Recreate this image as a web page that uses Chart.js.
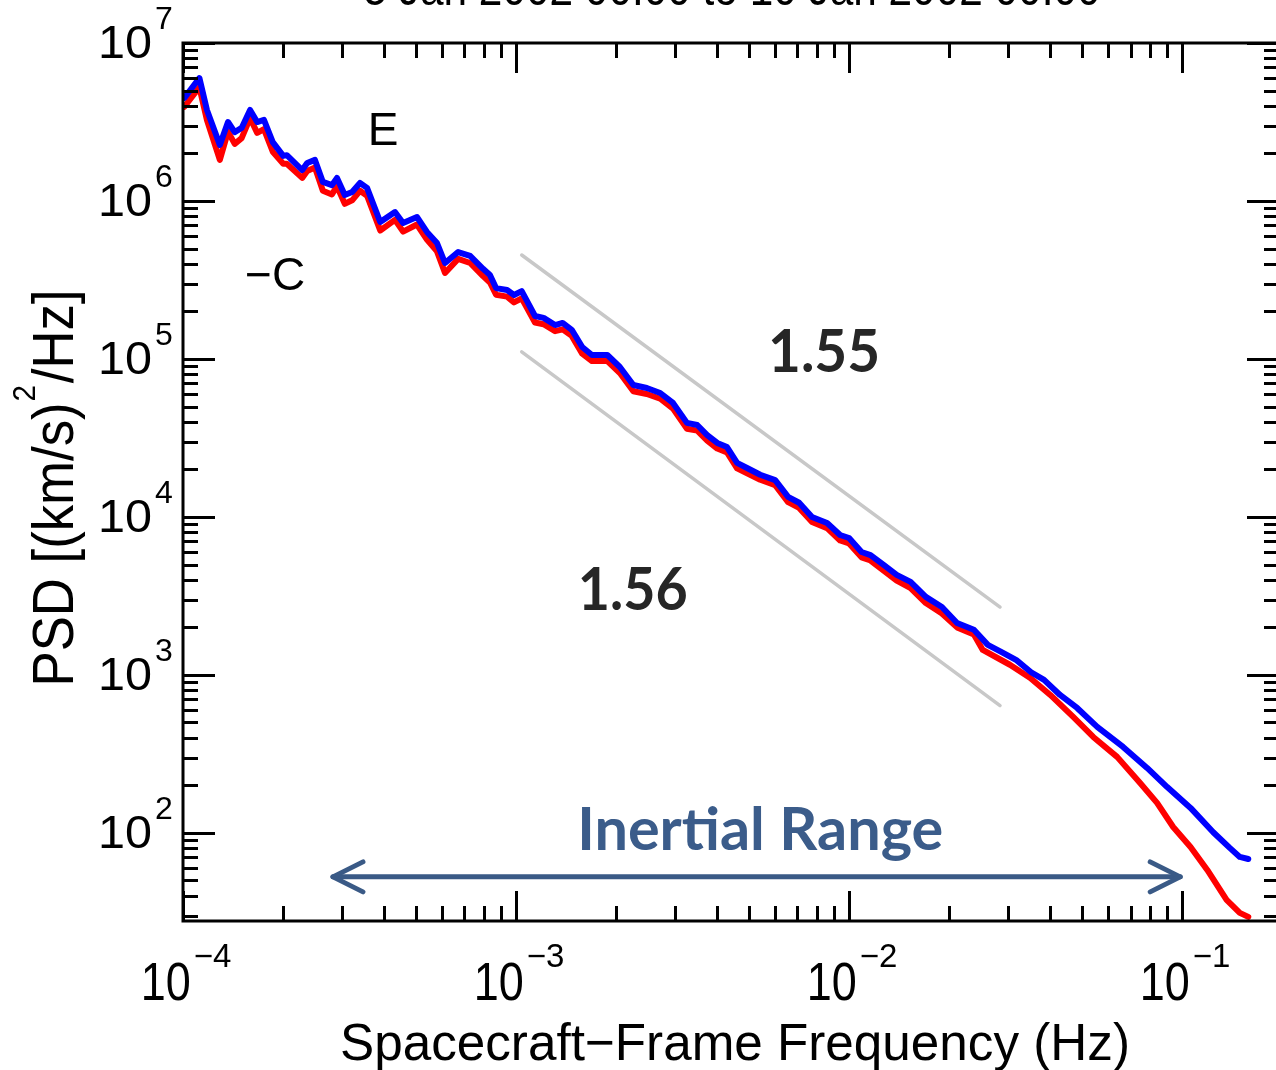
<!DOCTYPE html>
<html>
<head>
<meta charset="utf-8">
<script src="https://cdn.jsdelivr.net/npm/chart.js"></script>
<style>
html, body { margin: 0; padding: 0; background: #fff; overflow: hidden; }
canvas { display: block; }
</style>
</head>
<body>
<canvas id="psdChart" width="1290" height="1070"></canvas>
<script>
// spectrum (Hz, (km/s)^2/Hz)
var freqBlue = [1.01e-4, 1.12e-4, 1.18e-4, 1.29e-4, 1.365e-4, 1.43e-4, 1.50e-4, 1.59e-4, 1.67e-4, 1.75e-4,
    1.86e-4, 2.00e-4, 2.05e-4, 2.28e-4, 2.36e-4, 2.49e-4, 2.63e-4, 2.80e-4, 2.90e-4, 3.06e-4,
    3.22e-4, 3.40e-4, 3.57e-4, 3.91e-4, 4.33e-4, 4.58e-4, 5.04e-4, 5.40e-4, 5.79e-4, 6.12e-4,
    6.70e-4, 7.28e-4, 7.96e-4, 8.35e-4, 8.71e-4, 9.40e-4, 9.86e-4, 1.04e-3, 1.14e-3, 1.21e-3,
    1.31e-3, 1.38e-3, 1.47e-3, 1.58e-3, 1.69e-3, 1.88e-3, 2.05e-3, 2.25e-3, 2.47e-3, 2.71e-3,
    2.96e-3, 3.26e-3, 3.50e-3, 3.75e-3, 4.02e-3, 4.30e-3, 4.61e-3, 4.94e-3, 5.41e-3, 6.00e-3,
    6.56e-3, 7.08e-3, 7.74e-3, 8.59e-3, 9.40e-3, 1.00e-2, 1.09e-2, 1.16e-2, 1.27e-2, 1.39e-2,
    1.53e-2, 1.70e-2, 1.90e-2, 2.11e-2, 2.37e-2, 2.61e-2, 2.90e-2, 3.18e-2, 3.52e-2, 3.85e-2,
    4.30e-2, 4.84e-2, 5.56e-2, 6.65e-2, 7.85e-2, 9.02e-2, 1.06e-1, 1.24e-1, 1.39e-1, 1.49e-1, 1.58e-1];
var psdBlue = [4.49e6, 6.00e6, 3.77e6, 2.26e6, 3.16e6, 2.73e6, 2.90e6, 3.77e6, 3.16e6, 3.26e6,
    2.36e6, 1.93e6, 1.95e6, 1.57e6, 1.74e6, 1.82e6, 1.32e6, 1.26e6, 1.40e6, 1.09e6,
    1.14e6, 1.30e6, 1.21e6, 7.36e5, 8.51e5, 7.26e5, 7.92e5, 6.37e5, 5.42e5, 4.05e5,
    4.75e5, 4.49e5, 3.72e5, 3.40e5, 2.81e5, 2.73e5, 2.54e5, 2.69e5, 1.87e5, 1.82e5,
    1.64e5, 1.69e5, 1.53e5, 1.19e5, 1.06e5, 1.06e5, 8.90e4, 6.84e4, 6.55e4, 6.09e4,
    5.27e4, 3.94e4, 3.82e4, 3.30e4, 2.94e4, 2.77e4, 2.20e4, 2.04e4, 1.85e4, 1.71e4,
    1.34e4, 1.23e4, 1.00e4, 9.16e3, 7.69e3, 7.36e3, 6.00e3, 5.74e3, 4.97e3, 4.30e3,
    3.88e3, 3.12e3, 2.69e3, 2.13e3, 1.93e3, 1.55e3, 1.38e3, 1.24e3, 1.04e3, 930,
    747, 618, 469, 350, 258, 195, 144, 101, 80.4, 70.5, 68.4];

var freqRed = [1.01e-4, 1.12e-4, 1.18e-4, 1.29e-4, 1.365e-4, 1.43e-4, 1.50e-4, 1.59e-4, 1.67e-4, 1.75e-4,
    1.86e-4, 2.00e-4, 2.05e-4, 2.28e-4, 2.36e-4, 2.49e-4, 2.63e-4, 2.80e-4, 2.90e-4, 3.06e-4,
    3.22e-4, 3.40e-4, 3.57e-4, 3.91e-4, 4.33e-4, 4.58e-4, 5.04e-4, 5.40e-4, 5.79e-4, 6.12e-4,
    6.70e-4, 7.28e-4, 7.96e-4, 8.35e-4, 8.71e-4, 9.40e-4, 9.86e-4, 1.04e-3, 1.14e-3, 1.21e-3,
    1.31e-3, 1.38e-3, 1.47e-3, 1.58e-3, 1.69e-3, 1.88e-3, 2.05e-3, 2.25e-3, 2.47e-3, 2.71e-3,
    2.96e-3, 3.26e-3, 3.50e-3, 3.75e-3, 4.02e-3, 4.30e-3, 4.61e-3, 4.94e-3, 5.41e-3, 6.00e-3,
    6.56e-3, 7.08e-3, 7.74e-3, 8.59e-3, 9.40e-3, 1.00e-2, 1.09e-2, 1.16e-2, 1.27e-2, 1.39e-2,
    1.53e-2, 1.70e-2, 1.90e-2, 2.11e-2, 2.37e-2, 2.52e-2, 3.04e-2, 3.50e-2, 4.02e-2, 4.71e-2,
    5.41e-2, 6.38e-2, 7.48e-2, 8.41e-2, 9.40e-2, 1.06e-1, 1.19e-1, 1.36e-1, 1.49e-1, 1.58e-1];
var psdRed = [3.95e6, 5.25e6, 3.25e6, 1.82e6, 2.75e6, 2.30e6, 2.50e6, 3.35e6, 2.70e6, 2.85e6,
    2.05e6, 1.72e6, 1.72e6, 1.40e6, 1.55e6, 1.63e6, 1.16e6, 1.10e6, 1.24e6, 9.6e5,
    1.01e6, 1.16e6, 1.08e6, 6.5e5, 7.6e5, 6.4e5, 7.1e5, 5.7e5, 4.8e5, 3.5e5,
    4.3e5, 4.05e5, 3.35e5, 3.05e5, 2.55e5, 2.48e5, 2.28e5, 2.42e5, 1.70e5, 1.66e5,
    1.50e5, 1.54e5, 1.40e5, 1.08e5, 9.7e4, 9.7e4, 8.15e4, 6.25e4, 6.0e4, 5.6e4,
    4.85e4, 3.62e4, 3.52e4, 3.04e4, 2.71e4, 2.56e4, 2.03e4, 1.89e4, 1.72e4, 1.59e4,
    1.24e4, 1.14e4, 9.3e3, 8.5e3, 7.1e3, 6.8e3, 5.55e3, 5.3e3, 4.58e3, 3.95e3,
    3.55e3, 2.85e3, 2.45e3, 2.0e3, 1.80e3, 1.44e3, 1.16e3, 957, 747, 542,
    405, 303, 207, 155, 109, 81.5, 58.3, 37.7, 31.2, 29.4];

// power-law guide lines (slopes 1.55 and 1.56)
var fitFreq = [1.04e-3, 2.84e-2];
var fitUpper = [4.55e5, 2.69e3];
var fitLower = [1.11e5, 6.4e2];

// inertial range arrow
var arrowFreq = [2.82e-4, 9.87e-2];
var arrowPsd = [52.7, 52.7];

var xDecades = [-4, -3, -2, -1];
var yDecades = [2, 3, 4, 5, 6, 7];

var titleText = '5 Jan 2002 00:00 to 10 Jan 2002 00:00';
var xTitle = 'Spacecraft\u2212Frame Frequency (Hz)';

// text notes placed in data coordinates
var notes = [
    {text: 'E', f: 3.99e-4, p: 2.26e6, font: '46px "Liberation Sans"', color: '#000'},
    {text: '\u2212C', f: 1.89e-4, p: 2.73e5, font: '46px "Liberation Sans"', color: '#000'},
    {text: '1.55', f: 8.41e-3, p: 8.27e4, font: 'bold 60px Lato', color: '#262626', width: 112},
    {text: '1.56', f: 2.24e-3, p: 2.58e3, font: 'bold 60px Lato', color: '#262626', width: 110},
    {text: 'Inertial Range', f: 5.41e-3, p: 78, font: 'bold 60px Lato', color: '#3b5c8a', width: 366}
];

function pts(xs, ys) {
    return xs.map(function(v, i){ return {x: v, y: ys[i]}; });
}

function putText(ctx, str, x, y, font, opts) {
    opts = opts || {};
    ctx.save();
    ctx.font = font;
    ctx.fillStyle = opts.color || '#000';
    ctx.textAlign = 'left';
    ctx.textBaseline = 'alphabetic';
    var w = ctx.measureText(str).width;
    var sx = opts.width ? opts.width / w : 1;
    var dw = w * sx;
    var left = x;
    if (opts.align === 'center') left = x - dw / 2;
    if (opts.align === 'right') left = x - dw;
    ctx.translate(left, y);
    ctx.scale(sx, 1);
    ctx.fillText(str, 0, 0);
    ctx.restore();
    return dw;
}

function seg(ctx, x1, y1, x2, y2) {
    ctx.beginPath();
    ctx.moveTo(x1, y1);
    ctx.lineTo(x2, y2);
    ctx.stroke();
}

var axesPlugin = {
    id: 'idlAxes',
    afterDraw: function(chart) {
        var ctx = chart.ctx, a = chart.chartArea;
        var xs = chart.scales.x, ys = chart.scales.y;
        ctx.save();
        ctx.strokeStyle = '#000';
        ctx.lineWidth = 3;
        ctx.lineCap = 'butt';
        ctx.strokeRect(a.left, a.top, a.right - a.left, a.bottom - a.top);

        // x ticks, bottom and top
        for (var k = -4; k <= -1; k++) {
            for (var m = 1; m <= 9; m++) {
                var v = m * Math.pow(10, k);
                if (v > xs.max * 1.0001) continue;
                var px = Math.round(xs.getPixelForValue(v)) + 0.5;
                var len = m === 1 ? 30 : 15;
                seg(ctx, px, a.bottom, px, a.bottom - len);
                seg(ctx, px, a.top, px, a.top + len);
            }
        }
        // y ticks, left and right
        for (var k2 = 1; k2 <= 7; k2++) {
            for (var m2 = 1; m2 <= 9; m2++) {
                var v2 = m2 * Math.pow(10, k2);
                if (v2 < ys.min || v2 > ys.max * 1.0001) continue;
                var py = Math.round(ys.getPixelForValue(v2)) + 0.5;
                var len2 = m2 === 1 ? 32 : 15;
                seg(ctx, a.left, py, a.left + len2, py);
                seg(ctx, a.right, py, a.right - len2, py);
            }
        }
        ctx.restore();

        // tick labels
        yDecades.forEach(function(k) {
            var py = ys.getPixelForValue(Math.pow(10, k));
            putText(ctx, '10', a.left - 31, py + 15, '47px "Liberation Sans"', {align: 'right', width: 54});
            putText(ctx, String(k), a.left - 28, py - 14, '32px "Liberation Sans"');
        });
        xDecades.forEach(function(k) {
            var px = xs.getPixelForValue(Math.pow(10, k));
            var sup = '\u2212' + (-k);
            ctx.font = '33px "Liberation Sans"';
            var ws = ctx.measureText(sup).width;
            var left = px - (53 + ws) / 2 + 3;
            putText(ctx, '10', left, a.bottom + 79, '53px "Liberation Sans"', {width: 50});
            putText(ctx, sup, left + 53, a.bottom + 46, '33px "Liberation Sans"');
        });

        // axis titles
        var cx = (a.left + a.right) / 2;
        putText(ctx, xTitle, cx + 4, a.bottom + 139, '52px "Liberation Sans"', {align: 'center', width: 790});
        putText(ctx, titleText, cx + 1, a.top - 38, '50px "Liberation Sans"', {align: 'center', width: 737});

        ctx.save();
        ctx.translate(73, 488);
        ctx.rotate(-Math.PI / 2);
        ctx.fillStyle = '#000';
        ctx.font = '57px "Liberation Sans"';
        var p1 = 'PSD [(km/s)', p3 = '/Hz]';
        var w1 = ctx.measureText(p1).width, w3 = ctx.measureText(p3).width;
        ctx.font = '32px "Liberation Sans"';
        var w2 = ctx.measureText('2').width + 3;
        var tot = w1 + w2 + w3;
        ctx.scale(397 / tot, 1);
        var s0 = -tot / 2;
        ctx.font = '57px "Liberation Sans"';
        ctx.fillText(p1, s0, 0);
        ctx.font = '32px "Liberation Sans"';
        ctx.fillText('2', s0 + w1 + 1, -38);
        ctx.font = '57px "Liberation Sans"';
        ctx.fillText(p3, s0 + w1 + w2, 0);
        ctx.restore();

        // notes
        notes.forEach(function(n) {
            putText(ctx, n.text, xs.getPixelForValue(n.f), ys.getPixelForValue(n.p), n.font,
                {align: 'center', color: n.color, width: n.width});
        });

        // arrow heads on the inertial range line
        var meta = chart.getDatasetMeta(4);
        var p0 = meta.data[0], pN = meta.data[1];
        ctx.save();
        ctx.strokeStyle = '#3a5a86';
        ctx.lineWidth = 5;
        ctx.lineCap = 'round';
        ctx.lineJoin = 'round';
        ctx.beginPath();
        ctx.moveTo(p0.x + 30, p0.y - 15); ctx.lineTo(p0.x, p0.y); ctx.lineTo(p0.x + 30, p0.y + 15);
        ctx.moveTo(pN.x - 30, pN.y - 15); ctx.lineTo(pN.x, pN.y); ctx.lineTo(pN.x - 30, pN.y + 15);
        ctx.stroke();
        ctx.restore();
    }
};

var ctx = document.getElementById('psdChart');
var psdChart = new Chart(ctx, {
    type: 'line',
    data: {
        datasets: [
            {label: 'E', data: pts(freqBlue, psdBlue), borderColor: '#0000ff', borderWidth: 6, order: 0},
            {label: 'C', data: pts(freqRed, psdRed), borderColor: '#ff0000', borderWidth: 6, order: 1},
            {label: 'fit 1.55', data: pts(fitFreq, fitUpper), borderColor: '#c8c8c8', borderWidth: 3.5, order: 2},
            {label: 'fit 1.56', data: pts(fitFreq, fitLower), borderColor: '#c8c8c8', borderWidth: 3.5, order: 2},
            {label: 'inertial', data: pts(arrowFreq, arrowPsd), borderColor: '#3a5a86', borderWidth: 5, order: 3}
        ]
    },
    options: {
        responsive: false,
        animation: false,
        layout: {padding: {left: 183, top: 43, right: 11, bottom: 149}},
        elements: {
            point: {radius: 0, hoverRadius: 0},
            line: {tension: 0, fill: false, borderJoinStyle: 'round', borderCapStyle: 'round'}
        },
        plugins: {legend: {display: false}, tooltip: {enabled: false}, title: {display: false}},
        scales: {
            x: {type: 'logarithmic', min: 1e-4, max: 0.1954, display: false},
            y: {type: 'logarithmic', min: 27.7, max: 1e7, display: false}
        }
    },
    plugins: [axesPlugin]
});
</script>
</body>
</html>
